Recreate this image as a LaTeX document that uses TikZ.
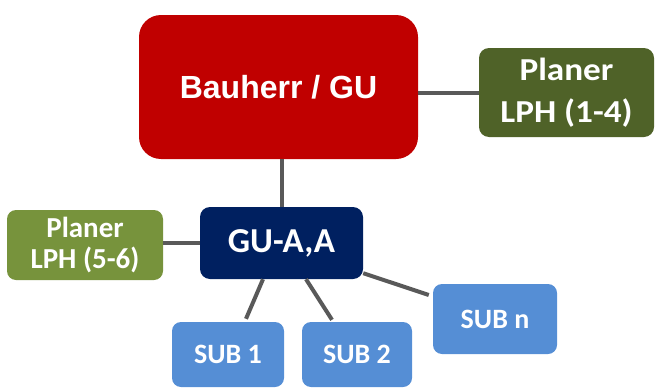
\documentclass[tikz,border=0pt]{standalone}
\usepackage{fontspec}
\setmainfont{Carlito}
\newfontfamily\arialfont{Liberation Sans}
\usetikzlibrary{calc}
\definecolor{baured}{HTML}{C00000}
\definecolor{darkolive}{HTML}{4F6228}
\definecolor{litolive}{HTML}{77933C}
\definecolor{navy}{HTML}{002060}
\definecolor{subblue}{HTML}{558ED5}
\definecolor{linegray}{HTML}{595959}
\tikzset{
  box/.style={rectangle, rounded corners=10pt, inner sep=0pt, text=white, font=\bfseries, align=center},
  conn/.style={draw=linegray, line width=4pt},
}
\begin{document}
\begin{tikzpicture}[x=1pt,y=-1pt]
\useasboundingbox (0,0) rectangle (656,388);
\node[box, fill=baured, rounded corners=22pt, minimum width=279pt, minimum height=144pt, font=\arialfont\bfseries\fontsize{32}{38}\selectfont] (bau) at (278.5,87) {Bauherr / GU};
\node[box, fill=darkolive, minimum width=175pt, minimum height=89pt, font=\bfseries\fontsize{32}{42}\selectfont] (p14) at (566.5,92.5) {\scalebox{1.1}[1]{Planer}\\\scalebox{1.1}[1]{LPH (1-4)}};
\node[box, fill=litolive, rounded corners=9pt, minimum width=156pt, minimum height=70pt, font=\bfseries\fontsize{29}{31}\selectfont] (p56) at (85,245) {Planer\\LPH (5-6)};
\node[box, fill=navy, minimum width=163pt, minimum height=72pt, font=\bfseries\fontsize{35}{40}\selectfont] (gu) at (281.5,243) {GU-A,A};
\node[box, fill=subblue, rounded corners=9pt, minimum width=112pt, minimum height=65pt, font=\bfseries\fontsize{28}{32}\selectfont] (s1) at (228,354.5) {SUB 1};
\node[box, fill=subblue, rounded corners=9pt, minimum width=110pt, minimum height=65pt, font=\bfseries\fontsize{28}{32}\selectfont] (s2) at (357,354.5) {SUB 2};
\node[box, fill=subblue, rounded corners=9pt, minimum width=124pt, minimum height=70pt, font=\bfseries\fontsize{28}{32}\selectfont] (sn) at (495,319) {SUB n};
\draw[conn] (p14.west) -- (p14.west -| bau.east);
\draw[conn] (gu.north) -- (gu.north |- bau.south);
\draw[conn] (gu.west) -- (gu.west -| p56.east);
\draw[conn] ($(gu.south)+(-18.5,0)$) -- ($(s1.north)+(18,-3)$);
\draw[conn] ($(gu.south)+(24.5,0)$) -- ($(s2.north)+(-25,-2)$);
\draw[conn] ($(gu.south east)+(0,-6)$) -- ($(sn.west)+(-4,-24)$);
\end{tikzpicture}
\end{document}
